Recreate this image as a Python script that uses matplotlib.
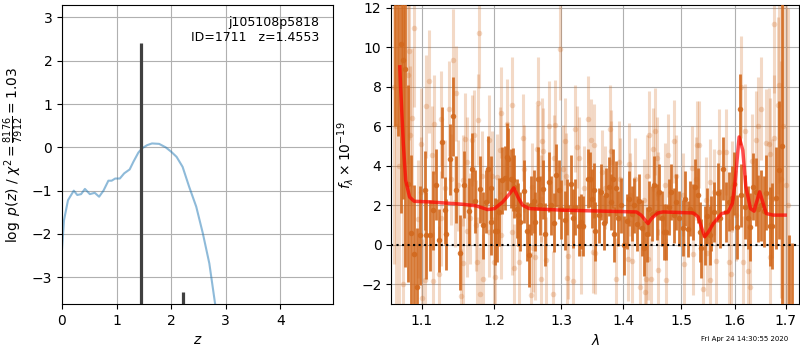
import numpy as np
import matplotlib.pyplot as plt
from matplotlib.ticker import NullLocator

# p(z) curve
z_grid = [0.0, 0.037, 0.11, 0.216, 0.28, 0.35, 0.42, 0.51, 0.60, 0.68, 0.76, 0.85,
          0.91, 0.975, 1.06, 1.14, 1.24, 1.31, 1.40, 1.47, 1.56, 1.65, 1.78, 1.90,
          2.00, 2.10, 2.21, 2.33, 2.46, 2.58, 2.70, 2.81]
logpz = [-2.35, -1.68, -1.22, -1.00, -1.10, -1.08, -0.96, -1.08, -1.05, -1.14, -1.00, -0.77,
         -0.77, -0.72, -0.72, -0.60, -0.51, -0.33, -0.12, -0.02, 0.05, 0.09, 0.08, 0.00,
         -0.10, -0.22, -0.45, -0.91, -1.37, -1.98, -2.68, -3.65]
z_peaks = [1.4553, 2.22]
peak_heights = [2.40, -3.35]

# spectrum, binned (dark)
wave_dk = [1.0647, 1.0690, 1.0728, 1.0757, 1.0778, 1.0822, 1.0865, 1.0895, 1.0931, 1.0974,
           1.1040, 1.1060, 1.1106, 1.1150, 1.1186, 1.1227, 1.1270, 1.1307, 1.1328, 1.1375,
           1.1412, 1.1457, 1.1521, 1.1567, 1.1637, 1.1675, 1.1721, 1.1791, 1.1839, 1.1876,
           1.1900, 1.1943, 1.1955, 1.2004, 1.2041, 1.2059, 1.2106, 1.2145, 1.2185, 1.2200,
           1.2233, 1.2262, 1.2283, 1.2326, 1.2347, 1.2368, 1.2430, 1.2474, 1.2504, 1.2533,
           1.2578, 1.2599, 1.2639, 1.2664, 1.2715, 1.2749, 1.2802, 1.2836, 1.2884, 1.2914,
           1.2962, 1.2993, 1.3050, 1.3093, 1.3144, 1.3188, 1.3218, 1.3271, 1.3316, 1.3342,
           1.3419, 1.3455, 1.3487, 1.3510, 1.3541, 1.3604, 1.3632, 1.3676, 1.3715, 1.3755,
           1.3788, 1.3822, 1.3849, 1.3875, 1.3915, 1.3956, 1.4017, 1.4060, 1.4098, 1.4140,
           1.4181, 1.4225, 1.4266, 1.4310, 1.4355, 1.4400, 1.4440, 1.4480, 1.4525, 1.4570,
           1.4610, 1.4655, 1.4697, 1.4737, 1.4784, 1.4825, 1.4870, 1.4918, 1.4960, 1.5030,
           1.5070, 1.5120, 1.5165, 1.5210, 1.5250, 1.5300, 1.5350, 1.5370, 1.5430, 1.5470,
           1.5520, 1.5550, 1.5610, 1.5670, 1.5720, 1.5780, 1.5830, 1.5890, 1.5940, 1.5980,
           1.6040, 1.6090, 1.6120, 1.6190, 1.6250, 1.6290, 1.6350, 1.6400, 1.6450, 1.6510,
           1.6560, 1.6610, 1.6690, 1.6730, 1.6800, 1.6870, 1.6926, 1.7071, 1.7120]
flux_dk = [14.0, 13.0, 10.18, 9.33, 8.88, 3.09, 0.56, -0.46, -2.15, 0.47,
           2.75, 0.47, 0.47, 1.74, 3.04, 0.22, 5.19, 1.74, 0.51, 4.32,
           6.50, 2.78, -0.41, 3.04, 1.69, 3.85, 2.19, 2.80, 0.98, 2.16,
           3.81, 2.87, 1.15, 0.67, 0.71, 1.65, 3.25, 3.37, 4.44, 4.32,
           3.34, 3.29, 2.92, 1.82, 1.52, 1.15, 2.70, 0.67, -0.54, 1.99,
           2.19, 1.15, 3.34, 1.99, 2.80, 0.51, 3.17, 1.99, 1.11, 3.51,
           2.78, 1.79, 1.23, 1.90, 3.05, 1.32, 1.90, 0.94, 1.15, 0.94,
           3.34, 3.30, 2.33, 2.75, 0.67, 1.48, 2.66, 1.11, 2.50, 2.92,
           2.16, 3.34, 0.51, 2.84, 1.32, 1.99, -0.04, 1.18, 2.33, 1.57,
           1.99, 1.06, 2.19, 0.84, -0.20, 0.51, 1.82, 1.57, 3.00, 1.65,
           2.66, 1.32, 0.64, 0.64, 1.90, 2.66, 1.48, 2.16, 1.32, 0.84,
           2.33, 0.79, 1.82, 1.65, 2.92, 2.50, 0.64, -0.20, 0.47, 1.45,
           0.47, 1.06, 1.65, 2.63, 1.32, 3.85, 1.65, 2.16, 2.36, 3.09,
           0.89, 6.85, 2.50, 1.90, 1.35, 0.89, 2.92, 2.66, 1.82, 1.99,
           1.69, 2.63, 0.93, 0.94, 2.36, 3.76, 5.00, -4.5, -5.0]
err_dk = [8.0, 7.5, 8.6, 7.0, 10.0, 5.0, 4.0, 3.5, 3.0, 2.5,
          2.0, 2.2, 1.8, 2.0, 1.8, 1.6, 1.8, 1.7, 1.8, 1.8,
          2.0, 1.7, 1.9, 1.7, 1.7, 1.8, 1.6, 1.7, 1.7, 1.6,
          1.7, 1.6, 1.7, 1.7, 1.6, 1.7, 1.7, 1.6, 1.7, 1.6,
          1.5, 1.6, 1.6, 1.5, 1.6, 1.5, 1.6, 1.5, 1.6, 1.5,
          1.6, 1.5, 1.6, 1.5, 1.5, 1.6, 1.5, 1.5, 1.5, 1.6,
          1.5, 1.5, 1.5, 1.4, 1.5, 1.5, 1.4, 1.5, 1.4, 1.5,
          1.5, 1.4, 1.5, 1.4, 1.5, 1.4, 1.4, 1.4, 1.4, 1.5,
          1.4, 1.5, 1.4, 1.4, 1.4, 1.4, 1.5, 1.4, 1.4, 1.4,
          1.4, 1.4, 1.4, 1.4, 1.4, 1.4, 1.4, 1.4, 1.5, 1.4,
          1.4, 1.4, 1.4, 1.4, 1.4, 1.4, 1.4, 1.4, 1.4, 1.4,
          1.4, 1.4, 1.4, 1.4, 1.4, 1.4, 1.5, 1.5, 1.5, 1.4,
          1.5, 1.4, 1.5, 1.5, 1.5, 1.6, 1.5, 1.5, 1.6, 1.6,
          1.6, 1.8, 1.6, 1.6, 1.6, 1.7, 1.7, 1.7, 1.7, 1.8,
          1.8, 1.9, 2.0, 2.2, 2.6, 3.5, 9.0, 5.0, 5.1]

# spectrum, individual beams (light)
wave_lt = [1.0640, 1.0665, 1.0700, 1.0757, 1.0818, 1.0836, 1.0850, 1.0868, 1.0895, 1.0952,
           1.0988, 1.0990, 1.1000, 1.1043, 1.1052, 1.1090, 1.1130, 1.1150, 1.1160, 1.1227,
           1.1255, 1.1260, 1.1316, 1.1370, 1.1390, 1.1420, 1.1450, 1.1457, 1.1490, 1.1525,
           1.1550, 1.1560, 1.1590, 1.1605, 1.1610, 1.1650, 1.1675, 1.1710, 1.1740, 1.1755,
           1.1770, 1.1780, 1.1800, 1.1820, 1.1840, 1.1915, 1.1925, 1.1960, 1.1995, 1.2010,
           1.2036, 1.2073, 1.2088, 1.2100, 1.2185, 1.2254, 1.2258, 1.2282, 1.2350, 1.2416,
           1.2437, 1.2533, 1.2545, 1.2562, 1.2590, 1.2629, 1.2648, 1.2681, 1.2690, 1.2700,
           1.2715, 1.2757, 1.2802, 1.2869, 1.2884, 1.2898, 1.2972, 1.3027, 1.3050, 1.3076,
           1.3085, 1.3110, 1.3188, 1.3218, 1.3240, 1.3282, 1.3316, 1.3363, 1.3418, 1.3466,
           1.3498, 1.3510, 1.3530, 1.3643, 1.3698, 1.3778, 1.3793, 1.3800, 1.3875, 1.3930,
           1.3946, 1.4080, 1.4098, 1.4110, 1.4154, 1.4193, 1.4280, 1.4342, 1.4364, 1.4386,
           1.4400, 1.4413, 1.4431, 1.4468, 1.4513, 1.4534, 1.4570, 1.4584, 1.4597, 1.4722,
           1.4730, 1.4766, 1.4869, 1.4912, 1.5030, 1.5056, 1.5196, 1.5220, 1.5270, 1.5295,
           1.5334, 1.5395, 1.5462, 1.5470, 1.5520, 1.5530, 1.5603, 1.5650, 1.5690, 1.5820,
           1.5889, 1.5919, 1.5949, 1.6027, 1.6125, 1.6163, 1.6190, 1.6247, 1.6291, 1.6320,
           1.6402, 1.6455, 1.6515, 1.6603, 1.6670, 1.6683, 1.6690, 1.6734, 1.6761, 1.6770,
           1.6847, 1.6867, 1.6902, 1.6950, 1.7000, 1.7050]
flux_lt = [8.0, 6.0, 4.0, -1.98, 8.60, 9.79, 5.53, 6.43, 10.99, 1.28,
           2.66, 5.11, -2.70, -1.81, 7.00, 8.27, 4.52, -1.86, 6.08, -1.47,
           1.32, 6.38, 2.87, 6.89, 3.30, 9.33, 2.16, 7.65, 3.00, -2.62,
           3.26, -0.96, 5.37, 0.67, 4.18, 1.32, 5.28, 5.53, 0.98, -0.91,
           6.33, 10.73, -2.53, 3.47, -1.76, 0.64, 5.28, 3.47, -0.91, -1.64,
           3.42, 4.77, 6.68, 0.47, 6.08, 0.64, 7.09, -1.18, -0.88, 5.40,
           3.85, -2.57, 2.92, -0.20, -0.63, 4.86, 7.19, 2.33, -1.76, 5.23,
           4.74, -0.80, 6.00, -2.53, 4.38, 6.04, 9.92, 3.85, 5.23, 3.47,
           -1.72, -0.58, -1.86, 5.87, 4.94, 4.38, -0.41, 2.87, 6.34, 5.28,
           -0.37, 5.03, -0.41, 3.68, 2.87, 5.87, 4.72, 4.18, -1.76, 4.18,
           3.31, -0.74, 4.07, 2.53, -0.85, 3.31, -2.15, 2.24, -2.40, -1.76,
           3.47, -0.71, 5.57, -1.76, 4.83, 5.74, 4.38, 2.58, -1.30, 3.04,
           -1.81, 4.52, 5.23, 3.47, 2.53, -1.01, 3.88, -0.46, 3.34, 5.06,
           5.06, -2.23, 2.24, -0.41, 3.17, -1.81, 2.66, -0.85, 4.69, 4.69,
           -0.91, -1.47, 2.92, 1.48, 7.98, -0.88, 5.74, -1.35, -2.15, 4.22,
           5.28, 6.00, 6.89, 5.16, 5.11, 4.61, -0.63, 2.33, 11.19, 5.40,
           7.05, 8.10, 3.31, 6.00, 3.00, 2.00]
err_lt = [9.0, 9.0, 8.0, 4.0, 4.5, 4.5, 3.5, 3.5, 4.0, 3.0,
          2.8, 2.8, 3.0, 2.6, 2.6, 2.6, 2.5, 2.5, 2.5, 2.4,
          2.4, 2.4, 2.4, 2.4, 2.3, 2.6, 2.3, 2.4, 2.3, 2.4,
          2.3, 2.3, 2.3, 2.3, 2.3, 2.3, 2.3, 2.3, 2.3, 2.3,
          2.3, 2.8, 2.4, 2.3, 2.3, 2.3, 2.3, 2.3, 2.3, 2.3,
          2.2, 2.2, 2.3, 2.2, 2.3, 2.2, 2.4, 2.2, 2.2, 2.2,
          2.2, 2.2, 2.2, 2.2, 2.2, 2.2, 2.3, 2.2, 2.2, 2.2,
          2.2, 2.2, 2.3, 2.2, 2.2, 2.3, 2.6, 2.2, 2.2, 2.2,
          2.2, 2.2, 2.1, 2.2, 2.1, 2.1, 2.1, 2.1, 2.2, 2.1,
          2.1, 2.1, 2.1, 2.1, 2.1, 2.2, 2.1, 2.1, 2.1, 2.1,
          2.1, 2.1, 2.1, 2.1, 2.1, 2.1, 2.1, 2.1, 2.1, 2.1,
          2.1, 2.1, 2.2, 2.1, 2.1, 2.2, 2.1, 2.1, 2.1, 2.1,
          2.1, 2.1, 2.1, 2.1, 2.1, 2.1, 2.1, 2.1, 2.1, 2.2,
          2.2, 2.2, 2.2, 2.2, 2.2, 2.2, 2.2, 2.2, 2.2, 2.2,
          2.2, 2.2, 2.3, 2.3, 2.6, 2.3, 2.4, 2.4, 2.4, 2.4,
          2.5, 2.5, 2.6, 2.7, 2.8, 2.8, 2.8, 3.0, 3.5, 3.2,
          4.5, 5.0, 6.0, 9.0, 10.0, 10.0]

# best-fit model
model_wave = [1.0715, 1.0725, 1.0760, 1.0790, 1.0840, 1.0900, 1.1100, 1.1550, 1.1740, 1.1900,
              1.2000, 1.2120, 1.2220, 1.2280, 1.2340, 1.2410, 1.2510, 1.3020, 1.3550, 1.4220,
              1.4300, 1.4420, 1.4480, 1.4590, 1.4680, 1.5220, 1.5310, 1.5370, 1.5430, 1.5500,
              1.5590, 1.5750, 1.5870, 1.5950, 1.6000, 1.6080, 1.6150, 1.6210, 1.6300, 1.6370,
              1.6400, 1.6480, 1.6530, 1.6610, 1.6750, 1.6990]
model_flux = [9.0, 7.98, 5.10, 3.26, 2.41, 2.19, 2.16, 2.04, 1.96, 1.77,
              1.82, 2.16, 2.58, 2.87, 2.41, 1.99, 1.82, 1.74, 1.70, 1.65,
              1.49, 1.06, 1.32, 1.60, 1.65, 1.60, 1.40, 0.89, 0.39, 0.64,
              1.06, 1.57, 1.65, 2.08, 3.09, 5.45, 4.78, 2.92, 1.82, 1.69,
              1.99, 2.67, 2.24, 1.57, 1.49, 1.49]

lam_ticks = [1.1, 1.2, 1.3, 1.4, 1.5, 1.6, 1.7]

fig = plt.figure(figsize=(8, 3.5), dpi=100)

# left panel: p(z)
ax1 = fig.add_axes([0.0775, 0.131, 0.339, 0.854])
ax1.plot(z_grid, logpz, color='tab:blue', alpha=0.5, lw=1.5)
ax1.vlines(z_peaks, -10, peak_heights, color='0.25', lw=2.3)
ax1.set_xlim(0, 4.97)
ax1.set_ylim(-3.62, 3.28)
ax1.set_xticks([0, 1, 2, 3, 4])
ax1.set_yticks([-3, -2, -1, 0, 1, 2, 3])
ax1.grid(True)
ax1.set_xlabel(r'$z$')
ax1.set_ylabel(r'$\log\ p(z)$ / $\chi^2=\frac{8176}{7912}=1.03$')
ax1.text(0.948, 0.965, 'j105108p5818\nID=1711   z=1.4553', transform=ax1.transAxes,
         ha='right', va='top', fontsize=9)

# right panel: spectrum
ax2 = fig.add_axes([0.489, 0.131, 0.51, 0.854])
col = '#d2691e'
ax2.errorbar(wave_lt, flux_lt, yerr=err_lt, fmt='o', color=col, alpha=0.25,
             ms=4, mec='none', elinewidth=2.2, capsize=0, zorder=2)
ax2.errorbar(wave_dk, flux_dk, yerr=err_dk, fmt='o', color=col, alpha=0.9,
             ms=4, mec='none', elinewidth=2.0, capsize=0, zorder=3)
ax2.plot(model_wave, model_flux, color='red', alpha=0.7, lw=2.5, zorder=4)
ax2.axhline(0, color='k', ls=':', lw=1.5, zorder=5)
ax2.set_xscale('log')
ax2.set_xticks(lam_ticks, labels=[str(t) for t in lam_ticks])
ax2.xaxis.set_minor_locator(NullLocator())
ax2.set_xlim(1.0605, 1.7278)
ax2.set_ylim(-3.02, 12.12)
ax2.set_yticks([-2, 0, 2, 4, 6, 8, 10, 12])
ax2.grid(True)
ax2.set_xlabel(r'$\lambda$')
ax2.set_ylabel(r'$f_\lambda \times 10^{-19}$')

fig.text(0.985, 0.031, 'Fri Apr 24 14:30:55 2020', ha='right', va='center', fontsize=5)

plt.savefig('out.png', dpi=100)
